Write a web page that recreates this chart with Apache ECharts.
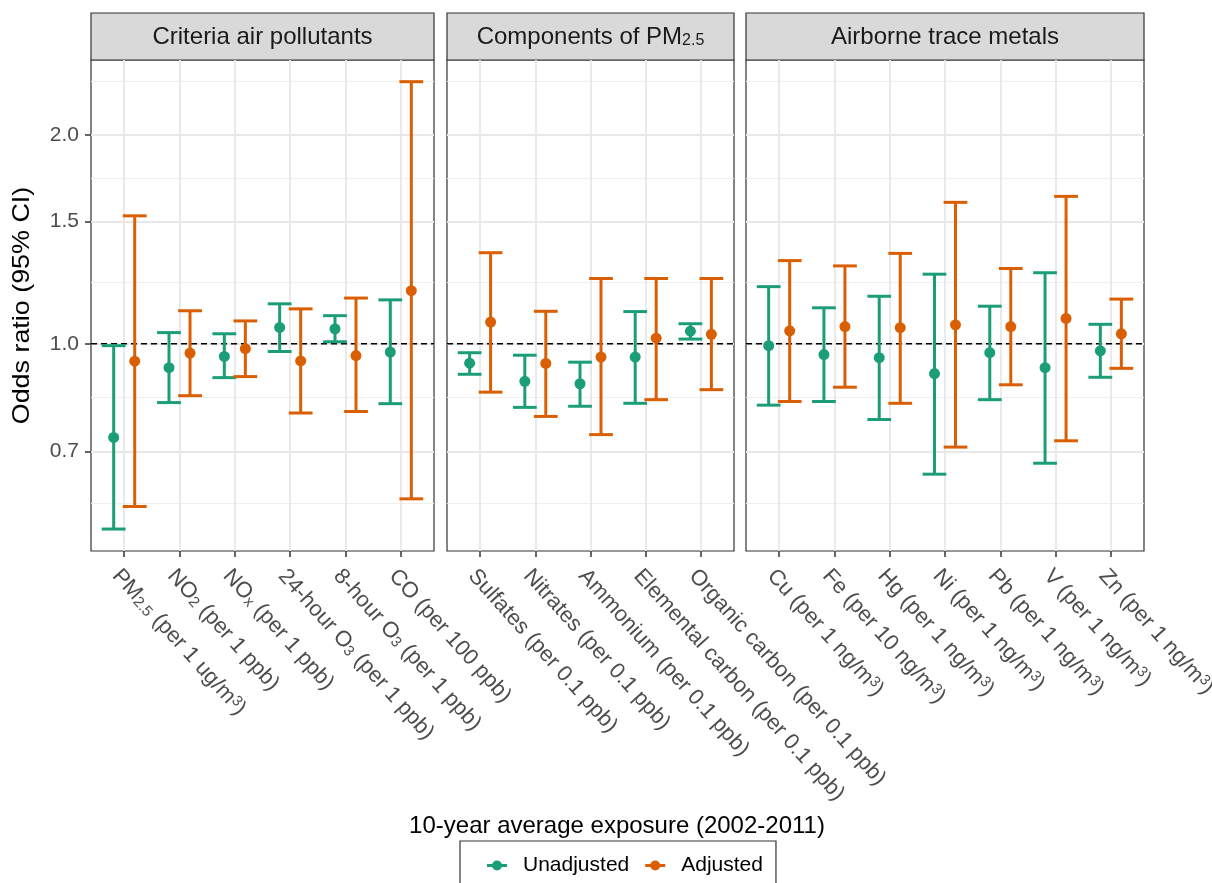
<!DOCTYPE html>
<html>
<head>
<meta charset="utf-8">
<script src="https://cdn.jsdelivr.net/npm/echarts@6/dist/echarts.min.js"></script>
<style>
  html, body { margin: 0; padding: 0; background: #fff; }
  #chart { width: 1212px; height: 883px; }
</style>
</head>
<body>
<div id="chart"></div>
<script>
// facet titles
const panelTitles = ['Criteria air pollutants', 'Components of PM{s|2.5}', 'Airborne trace metals'];

// rows are [odds ratio, lower 95% CI, upper 95% CI]
const criteriaLabels = ['PM{s|2.5} (per 1 ug/m{p|3})', 'NO{s|2} (per 1 ppb)', 'NO{s|x} (per 1 ppb)',
    '24-hour O{s|3} (per 1 ppb)', '8-hour O{s|3} (per 1 ppb)', 'CO (per 100 ppb)'];
const criteriaUnadjusted = [[0.733, 0.541, 0.994], [0.924, 0.823, 1.038], [0.959, 0.894, 1.034],
    [1.056, 0.975, 1.142], [1.051, 1.007, 1.098], [0.973, 0.820, 1.157]];
const criteriaAdjusted = [[0.944, 0.583, 1.529], [0.970, 0.842, 1.116], [0.984, 0.897, 1.079],
    [0.945, 0.795, 1.123], [0.962, 0.799, 1.164], [1.193, 0.598, 2.386]];

const componentLabels = ['Sulfates (per 0.1 ppb)', 'Nitrates (per 0.1 ppb)', 'Ammonium (per 0.1 ppb)',
    'Elemental carbon (per 0.1 ppb)', 'Organic carbon (per 0.1 ppb)'];
const componentUnadjusted = [[0.938, 0.904, 0.971], [0.883, 0.810, 0.963], [0.876, 0.813, 0.941],
    [0.957, 0.821, 1.113], [1.043, 1.016, 1.069]];
const componentAdjusted = [[1.075, 0.852, 1.353], [0.937, 0.786, 1.114], [0.957, 0.740, 1.242],
    [1.019, 0.831, 1.242], [1.032, 0.859, 1.242]];

const metalLabels = ['Cu (per 1 ng/m{p|3})', 'Fe (per 10 ng/m{p|3})', 'Hg (per 1 ng/m{p|3})',
    'Ni (per 1 ng/m{p|3})', 'Pb (per 1 ng/m{p|3})', 'V (per 1 ng/m{p|3})', 'Zn (per 1 ng/m{p|3})'];
const metalUnadjusted = [[0.994, 0.816, 1.209], [0.965, 0.826, 1.127], [0.955, 0.778, 1.171],
    [0.906, 0.649, 1.260], [0.971, 0.831, 1.133], [0.924, 0.673, 1.266], [0.977, 0.895, 1.067]];
const metalAdjusted = [[1.044, 0.826, 1.318], [1.059, 0.866, 1.295], [1.055, 0.821, 1.350],
    [1.065, 0.710, 1.599], [1.059, 0.873, 1.284], [1.088, 0.725, 1.631], [1.034, 0.922, 1.160]];

const yBreaks = [0.7, 1.0, 1.5, 2.0];
const yMinorBreaks = [0.59, 0.837, 1.225, 1.732, 2.39];
const yRange = [0.503, 2.564];

const FONT = '"Liberation Sans", Arial, sans-serif';
const GREEN = '#1B9E77', ORANGE = '#D95F02';
const DODGE = 0.19, CAP = 0.43;

const panels = [
    { labels: criteriaLabels, unadj: criteriaUnadjusted, adj: criteriaAdjusted, left: 91, width: 343 },
    { labels: componentLabels, unadj: componentUnadjusted, adj: componentAdjusted, left: 447, width: 287 },
    { labels: metalLabels, unadj: metalUnadjusted, adj: metalAdjusted, left: 746, width: 398 }
];
const TOP = 60, HEIGHT = 491;

const labelRich = {
    s: { fontSize: 15, lineHeight: 10, verticalAlign: 'bottom', color: '#4D4D4D', fontFamily: FONT },
    p: { fontSize: 15, lineHeight: 10, verticalAlign: 'top', color: '#4D4D4D', fontFamily: FONT }
};

let grids = [], xAxes = [], yAxes = [], series = [], graphics = [];

panels.forEach(function (p, k) {
    const n = p.labels.length;
    const ticks = p.labels.map((_, i) => i + 1);
    grids.push({
        left: p.left, top: TOP, width: p.width, height: HEIGHT,
        show: true, borderColor: '#333', borderWidth: 1.2, backgroundColor: '#fff',
        outerBoundsMode: 'none'
    });
    xAxes.push({
        type: 'value', gridIndex: k, min: 0.4, max: n + 0.6,
        axisLine: { show: false },
        axisTick: { show: true, customValues: ticks, length: 6, lineStyle: { color: '#333', width: 1.5 } },
        axisLabel: {
            customValues: ticks, rotate: -48, margin: 14, verticalAlign: 'top',
            formatter: v => p.labels[Math.round(v) - 1],
            fontSize: 22, color: '#4D4D4D', fontFamily: FONT, rich: labelRich
        },
        splitLine: { show: true, lineStyle: { color: '#E8E8E8', width: 1.8 } }
    });
    // major breaks
    yAxes.push({
        type: 'log', gridIndex: k, min: yRange[0], max: yRange[1], position: 'left',
        axisLine: { show: false },
        axisTick: { show: k === 0, customValues: yBreaks, length: 6, lineStyle: { color: '#333', width: 1.5 } },
        axisLabel: {
            show: k === 0, customValues: yBreaks, margin: 12,
            formatter: v => v.toFixed(1), fontSize: 21, color: '#4D4D4D', fontFamily: FONT
        },
        splitLine: { show: true, lineStyle: { color: '#E8E8E8', width: 1.8 } }
    });
    // minor breaks (grid lines only)
    yAxes.push({
        type: 'log', gridIndex: k, min: yRange[0], max: yRange[1], position: 'left',
        axisLine: { show: false },
        axisTick: { show: false, customValues: yMinorBreaks },
        axisLabel: { show: false },
        splitLine: { show: true, lineStyle: { color: '#EFEFEF', width: 1.2 } }
    });

    // dashed reference line at OR = 1
    series.push({
        type: 'line', name: 'ref', xAxisIndex: k, yAxisIndex: 2 * k, silent: true, z: 1,
        data: [[0.4, 1], [n + 0.6, 1]], symbol: 'none',
        lineStyle: { color: '#000', width: 1.5, type: [6, 4] }
    });

    [['Unadjusted', p.unadj, GREEN, -DODGE], ['Adjusted', p.adj, ORANGE, DODGE]].forEach(function (g) {
        const name = g[0], rows = g[1], color = g[2], off = g[3];
        series.push({
            type: 'custom', name: name, xAxisIndex: k, yAxisIndex: 2 * k, z: 2,
            itemStyle: { color: color },
            data: rows.map((r, i) => [i + 1 + off, r[1], r[2]]),
            encode: { x: 0, y: [1, 2] },
            renderItem: function (params, api) {
                const x = api.value(0);
                const lo = api.coord([x, api.value(1)]);
                const hi = api.coord([x, api.value(2)]);
                const half = api.size([CAP, 0])[0] / 2;
                const st = { stroke: color, lineWidth: 3 };
                return {
                    type: 'group', children: [
                        { type: 'line', shape: { x1: lo[0], y1: lo[1], x2: hi[0], y2: hi[1] }, style: st },
                        { type: 'line', shape: { x1: lo[0] - half, y1: lo[1], x2: lo[0] + half, y2: lo[1] }, style: st },
                        { type: 'line', shape: { x1: hi[0] - half, y1: hi[1], x2: hi[0] + half, y2: hi[1] }, style: st }
                    ]
                };
            }
        });
        series.push({
            type: 'scatter', name: name, xAxisIndex: k, yAxisIndex: 2 * k, z: 3,
            symbol: 'circle', symbolSize: 11, itemStyle: { color: color, opacity: 1 },
            data: rows.map((r, i) => [i + 1 + off, r[0]])
        });
    });

    // facet strip
    graphics.push({
        type: 'rect', shape: { x: p.left, y: 13, width: p.width, height: TOP - 13 },
        style: { fill: '#D9D9D9', stroke: '#333', lineWidth: 1.2 }
    });
    graphics.push({
        type: 'text', x: p.left + p.width / 2, y: 37,
        style: {
            text: panelTitles[k], fill: '#1A1A1A', font: '24px ' + FONT,
            align: 'center', verticalAlign: 'middle', textAlign: 'center', textVerticalAlign: 'middle',
            rich: { s: { fontSize: 16, lineHeight: 10, verticalAlign: 'bottom', fill: '#1A1A1A', fontFamily: FONT } }
        }
    });
});

graphics.push({
    type: 'text', x: 22, y: TOP + HEIGHT / 2, rotation: Math.PI / 2, scaleX: 1.12,
    style: { text: 'Odds ratio (95% CI)', fill: '#000', font: '24px ' + FONT, align: 'center', verticalAlign: 'middle', textAlign: 'center', textVerticalAlign: 'middle' }
});
graphics.push({
    type: 'text', x: 617, y: 826,
    style: { text: '10-year average exposure (2002-2011)', fill: '#000', font: '24px ' + FONT, align: 'center', verticalAlign: 'middle', textAlign: 'center', textVerticalAlign: 'middle' }
});

const option = {
    animation: false,
    backgroundColor: '#fff',
    grid: grids,
    xAxis: xAxes,
    yAxis: yAxes,
    series: series,
    graphic: graphics,
    legend: {
        data: ['Unadjusted', 'Adjusted'], left: 460, top: 841, orient: 'horizontal',
        icon: 'path://M0,3.5h6v3h-6z M14,3.5h6v3h-6z M15,5a5,5 0 1,1 -10,0a5,5 0 1,1 10,0z',
        itemWidth: 20, itemHeight: 10, itemGap: 16, selectedMode: false,
        borderColor: '#333', borderWidth: 1.2, padding: [14, 13, 26, 27],
        textStyle: { fontSize: 21, color: '#000', fontFamily: FONT, padding: [0, 0, 0, 11] }
    }
};

const chart = echarts.init(document.getElementById('chart'));
chart.setOption(option);
</script>
</body>
</html>
